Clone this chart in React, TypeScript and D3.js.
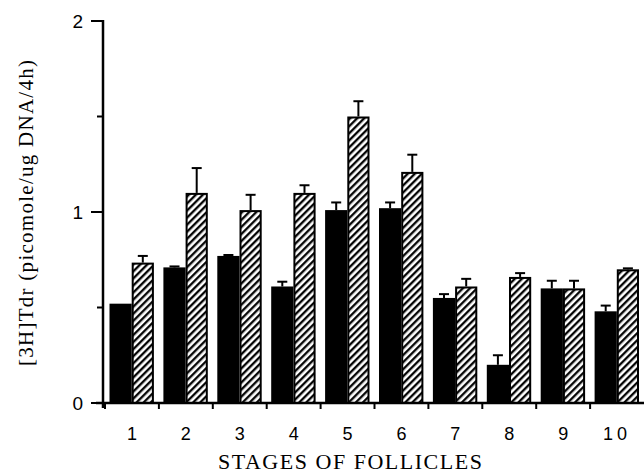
import React from "react"
import * as d3 from "d3"

// stages of follicles and the two series
const stages = ["1", "2", "3", "4", "5", "6", "7", "8", "9", "10"]
const solidValues = [0.52, 0.71, 0.77, 0.61, 1.01, 1.02, 0.55, 0.2, 0.6, 0.48]
const solidErrors = [0.0, 0.005, 0.005, 0.025, 0.04, 0.03, 0.02, 0.05, 0.04, 0.03]
const hatchValues = [0.735, 1.1, 1.01, 1.1, 1.5, 1.21, 0.61, 0.66, 0.6, 0.7]
const hatchErrors = [0.035, 0.13, 0.08, 0.04, 0.08, 0.09, 0.04, 0.02, 0.04, 0.005]
const yTicks = [0, 1, 2]
const yMinorTicks = [0.5, 1.5]

const W = 644
const H = 473
const SANS = "Arial, 'Liberation Sans', Helvetica, sans-serif"
const SERIF = "'Times New Roman', 'Liberation Serif', Times, serif"

export default function App() {
  const x = d3.scaleBand().domain(stages).range([105, 644]).paddingInner(0).paddingOuter(0)
  const y = d3.scaleLinear().domain([0, 2]).range([403, 21])
  const inner = d3.scaleBand().domain(["solid", "hatch"]).range([4.5, x.bandwidth() - 5]).padding(0)

  const series = [
    { key: "solid", values: solidValues, errors: solidErrors },
    { key: "hatch", values: hatchValues, errors: hatchErrors },
  ]

  return (
    <div style={{ position: "absolute", left: 0, top: 0 }}>
      <svg width={W} height={H} style={{ display: "block", background: "#fff" }}>
        <defs>
          <pattern id="hatch" patternUnits="userSpaceOnUse" width={5} height={5} patternTransform="rotate(45)">
            <rect width={5} height={5} fill="#fff" />
            <line x1={1.2} y1={0} x2={1.2} y2={5} stroke="#000" strokeWidth={2.3} />
          </pattern>
        </defs>

        {/* bars */}
        {series.map((s) =>
          s.values.map((v, i) => {
            const x0 = (x(stages[i]) as number) + (inner(s.key) as number)
            const bw = inner.bandwidth()
            const top = y(v)
            const errTop = y(v + s.errors[i])
            const cx = x0 + bw / 2
            return (
              <g key={s.key + i}>
                {s.errors[i] > 0.004 && (
                  <g stroke="#000" strokeWidth={2}>
                    <line x1={cx} x2={cx} y1={top} y2={errTop} />
                    <line x1={cx - 5} x2={cx + 5} y1={errTop} y2={errTop} />
                  </g>
                )}
                {s.key === "solid" ? (
                  <rect x={x0} y={top} width={bw} height={y(0) - top} fill="#000" />
                ) : (
                  <rect x={x0 + 1} y={top + 1} width={bw - 2} height={y(0) - top - 1} fill="url(#hatch)" stroke="#000" strokeWidth={2} />
                )}
              </g>
            )
          })
        )}

        {/* y axis */}
        <line x1={103} x2={103} y1={y(2) - 1} y2={y(0) + 5} stroke="#000" strokeWidth={2.5} />
        {yTicks.map((t) => (
          <g key={t}>
            <line x1={91} x2={103} y1={y(t)} y2={y(t)} stroke="#000" strokeWidth={2} />
            <text x={83} y={y(t) + 7} textAnchor="end" fontFamily={SANS} fontSize={19}>
              {t}
            </text>
          </g>
        ))}
        {yMinorTicks.map((t) => (
          <line key={t} x1={97} x2={103} y1={y(t)} y2={y(t)} stroke="#000" strokeWidth={2} />
        ))}

        {/* x axis */}
        <line x1={96} x2={644} y1={y(0)} y2={y(0)} stroke="#000" strokeWidth={2.5} />
        {stages.map((s) => (
          <line key={"t" + s} x1={x(s) as number} x2={x(s) as number} y1={y(0)} y2={y(0) + 6} stroke="#000" strokeWidth={2} />
        ))}
        {stages.map((s) => (
          <text
            key={"l" + s}
            x={(x(s) as number) + x.bandwidth() / 2}
            y={440}
            textAnchor="middle"
            fontFamily={SANS}
            fontSize={18}
            letterSpacing={s === "10" ? 4 : 0}
          >
            {s}
          </text>
        ))}

        <text x={350} y={469} textAnchor="middle" fontFamily={SERIF} fontSize={22} textLength={264} lengthAdjust="spacing">
          STAGES OF FOLLICLES
        </text>
        <text
          transform={`translate(33, 213) rotate(-90)`}
          textAnchor="middle"
          fontFamily={SERIF}
          fontSize={21}
          textLength={306}
          lengthAdjust="spacing"
        >
          [3H]Tdr (picomole/ug DNA/4h)
        </text>
      </svg>
    </div>
  )
}
